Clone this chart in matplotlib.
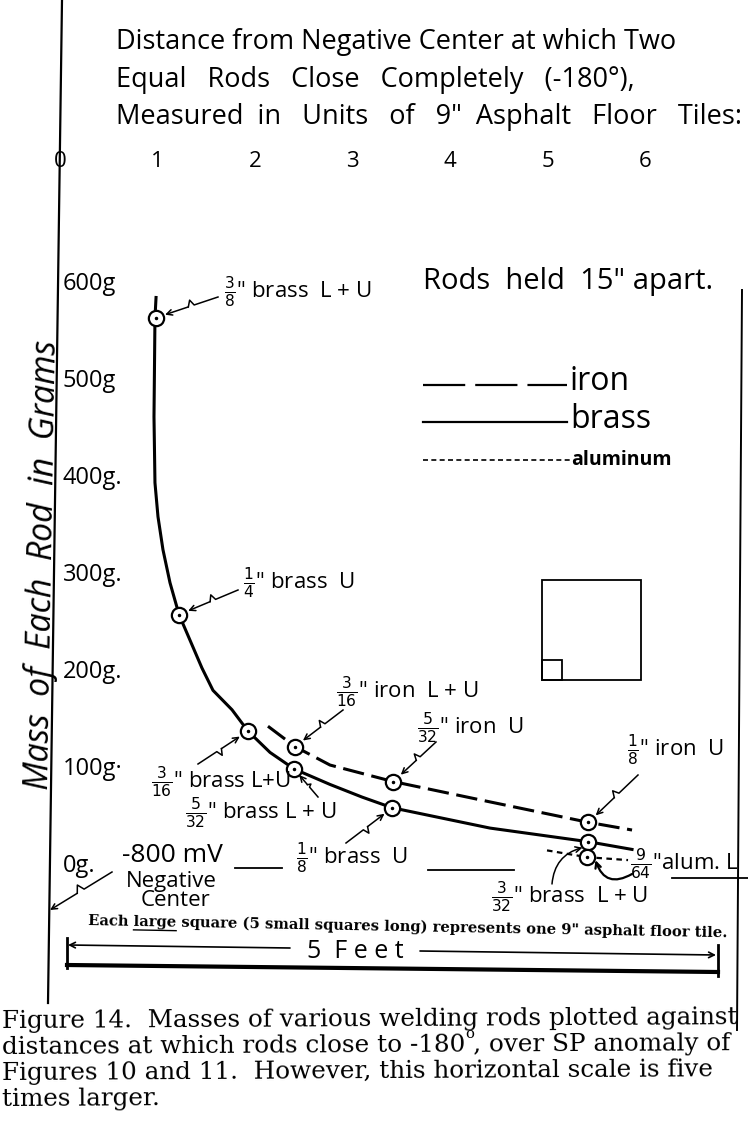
import matplotlib.pyplot as plt
import matplotlib.transforms as mtransforms
from matplotlib.patches import Rectangle
import numpy as np

W, H = 748, 1135

# distance in 9" tiles from the negative center, mass in grams
brass_x = [0.98, 1.22, 1.93, 2.40, 3.41, 5.42]
brass_g = [562, 256, 136, 97, 57, 22]
iron_x = [2.41, 3.42, 5.42]
iron_g = [120, 84, 42]
alum_x = [5.41]
alum_g = [6]

# hand drawn curves
brass_curve_x = [0.985, 0.974, 0.964, 0.974, 1.005, 1.056, 1.128, 1.221, 1.456, 1.569,
                 1.764, 1.928, 2.154, 2.400, 2.769, 3.097, 3.405, 4.410, 5.415, 5.867]
brass_curve_g = [583, 562, 460, 392, 357, 323, 289, 256, 201, 178,
                 158, 136, 114, 97, 81, 68, 57, 36, 22, 14]
iron_curve_x = [2.133, 2.410, 2.769, 3.415, 4.410, 5.415, 5.867]
iron_curve_g = [141, 120, 101, 84, 63, 42, 34]
alum_curve_x = [4.995, 5.405, 5.826]
alum_curve_g = [13, 6, 3]

tile_ticks = [0, 1, 2, 3, 4, 5, 6]
tile_labels = ['0', '1', '2', '3', '4', '5', '6']
gram_ticks = [0, 100, 200, 300, 400, 500, 600]
gram_labels = ['0g.', '100g·', '200g.', '300g.', '400g.', '500g', '600g']

hand = 'Open Sans'
typer = 'DejaVu Serif'
plt.rcParams['font.family'] = hand
plt.rcParams['mathtext.fontset'] = 'dejavusans'

fig = plt.figure(figsize=(W / 100, H / 100), dpi=100)
ax = fig.add_axes([60 / W, 0, (W - 60) / W, 1])
ax.set_xlim(0, (W - 60) / 97.5)
ax.set_ylim((863 - H) / 0.97, 863 / 0.97)
for s in ax.spines.values():
    s.set_visible(False)

ax.set_yticks(gram_ticks, gram_labels)
ax.tick_params(axis='y', length=0, pad=-2, labelsize=17)
for t in ax.get_yticklabels():
    t.set_ha('left')
ax.xaxis.set_ticks_position('top')
ax.set_xticks(tile_ticks, tile_labels)
ax.tick_params(axis='x', length=0, pad=-124, labelsize=16)

ident = mtransforms.IdentityTransform()
rend = fig.canvas.get_renderer()


def D(x, y):
    return (x, H - y)


def pline(xs, ys, **kw):
    ax.plot(xs, [H - y for y in ys], transform=ident, clip_on=False, color='black', **kw)


def ftext(x, y, s, **kw):
    return fig.text(x / W, 1 - y / H, s, **kw)


def fit(t, width):
    w = t.get_window_extent(rend).width
    t.set_fontsize(t.get_fontsize() * width / w)
    return t.get_fontsize()


def width_of(s, **kw):
    t = fig.text(0, 0, s, **kw)
    w = t.get_window_extent(rend).width
    t.remove()
    return w


# axis line and right edge
pline([62, 48], [0, 1003], lw=1.6)
pline([742, 737], [290, 1030], lw=1.4)

# curves
ax.plot(brass_curve_x, brass_curve_g, color='black', lw=2.2)
ax.plot(iron_curve_x, iron_curve_g, color='black', lw=2.2, dashes=(7, 2.5))
ax.plot(alum_curve_x, alum_curve_g, color='black', lw=1.6, dashes=(2.5, 2))

for xs, gs in [(brass_x, brass_g), (iron_x, iron_g), (alum_x, alum_g)]:
    ax.plot(xs, gs, 'o', ms=11, mfc='white', mec='black', mew=1.6, zorder=5)
    ax.plot(xs, gs, '.', ms=3, color='black', zorder=6)


def to_px(x, g):
    dx, dy = ax.transData.transform((x, g))
    return dx, H - dy


def zig(start, target, jog=6, r=10):
    sx, sy = start
    ex, ey = target
    d = np.array([ex - sx, ey - sy], float)
    u = d / np.hypot(*d)
    n = np.array([-u[1], u[0]])
    e = np.array([ex, ey]) - u * r
    s = np.array([sx, sy])
    a = s + 0.45 * (e - s)
    b = s + 0.50 * (e - s) + jog * n
    c = s + 0.56 * (e - s)
    pts = [s, a, b, c]
    pline([p[0] for p in pts], [p[1] for p in pts], lw=1.1)
    ax.annotate('', xy=D(*e), xytext=D(*c), xycoords='figure pixels', textcoords='figure pixels',
                arrowprops=dict(arrowstyle='->', lw=1.1, shrinkA=0, shrinkB=0, color='black'))


lab = dict(fontsize=16, va='center', ha='left')
ftext(224, 292, r'$\frac{3}{8}$" brass  L + U', **lab)
zig((218, 297), to_px(brass_x[0], brass_g[0]))
ftext(243, 583, r'$\frac{1}{4}$" brass  U', **lab)
zig((238, 590), to_px(brass_x[1], brass_g[1]))
ftext(336, 692, r'$\frac{3}{16}$" iron  L + U', **lab)
zig((343, 710), to_px(iron_x[0], iron_g[0]))
ftext(417, 728, r'$\frac{5}{32}$" iron  U', **lab)
zig((436, 742), to_px(iron_x[1], iron_g[1]))
ftext(627, 750, r'$\frac{1}{8}$" iron  U', **lab)
zig((638, 775), to_px(iron_x[2], iron_g[2]))
ftext(151, 782, r'$\frac{3}{16}$" brass L+U', **lab)
zig((198, 764), to_px(brass_x[2], brass_g[2]))
ftext(185, 813, r'$\frac{5}{32}$" brass L + U', **lab)
zig((318, 797), to_px(brass_x[3], brass_g[3]), jog=3, r=8)
ftext(296, 858, r'$\frac{1}{8}$" brass  U', **lab)
zig((346, 843), to_px(brass_x[4], brass_g[4]))
ftext(491, 897, r'$\frac{3}{32}$" brass  L + U', **lab)
bx, by = to_px(brass_x[5], brass_g[5])
ax.annotate('', xy=D(bx - 6, by + 6), xytext=D(552, 884), xycoords='figure pixels',
            textcoords='figure pixels',
            arrowprops=dict(arrowstyle='->', lw=1.1, color='black', shrinkA=0, shrinkB=0,
                            connectionstyle='arc3,rad=-0.35'))
ftext(630, 864, r'$\frac{9}{64}$"alum. L', fontsize=16, va='center', ha='left')
axx, axy = to_px(alum_x[0], alum_g[0])
ax.annotate('', xy=D(axx + 8, axy + 3), xytext=D(632, 874), xycoords='figure pixels',
            textcoords='figure pixels',
            arrowprops=dict(arrowstyle='->', lw=1.6, color='black', shrinkA=0, shrinkB=0,
                            connectionstyle='arc3,rad=-0.6'))

# underscores along the zero line
pline([235, 282], [868, 868], lw=1.3)
pline([428, 514], [870, 870], lw=1.3)
pline([672, 748], [878, 878], lw=1.3)

ftext(122, 856, '-800 mV', fontsize=19, va='center', ha='left')
ftext(171, 881, 'Negative', fontsize=16, va='center', ha='center')
ftext(176, 900, 'Center', fontsize=16, va='center', ha='center')
zig((112, 872), (50, 910), jog=7, r=0)

# header
head = dict(fontsize=19.5, va='center', ha='left')
ftext(116, 42, 'Distance from Negative Center at which Two', **head)
ftext(116, 80, 'Equal   Rods   Close   Completely   (-180°),', **head)
ftext(116, 117, 'Measured  in   Units   of   9"  Asphalt   Floor   Tiles:', **head)

yl = ftext(42, 565, 'Mass  of  Each  Rod  in  Grams', fontsize=19, style='italic',
           va='center', ha='center')
fit(yl, 450)
yl.set_rotation(89)

rh = ftext(423, 282, 'Rods  held  15" apart.', fontsize=17, va='center', ha='left')
fit(rh, 290)

# legend
pline([423, 567], [385, 385], lw=1.6, dashes=(19, 4.5))
ftext(570, 381, 'iron', fontsize=23, va='center', ha='left')
pline([423, 567], [422, 422], lw=1.6)
ftext(570, 419, 'brass', fontsize=23, va='center', ha='left')
pline([423, 570], [460, 460], lw=1.2, dashes=(3, 2))
ftext(571, 460, 'aluminum', fontsize=14, va='center', ha='left', weight='bold')

# tile squares
ax.add_patch(Rectangle(D(542, 680), 99, 100, transform=ident, fill=False, lw=1.3,
                       ec='black', clip_on=False))
ax.add_patch(Rectangle(D(542, 680), 20, 20, transform=ident, fill=False, lw=1.3,
                       ec='black', clip_on=False))

# 5 feet scale
note = 'Each large square (5 small squares long) represents one 9" asphalt floor tile.'
nt = ftext(88, 925, note, family=typer, weight='bold', fontsize=10, ha='left', va='baseline')
fs = fit(nt, 642)
nt.set_rotation(-1.1)
nt.set_rotation_mode('anchor')
u0 = 88 + width_of('Each ', family=typer, weight='bold', fontsize=fs)
u1 = 88 + width_of('Each large', family=typer, weight='bold', fontsize=fs)
pline([u0, u1], [929 + (u0 - 88) * 0.019, 929 + (u1 - 88) * 0.019], lw=1.0)
pline([67, 67], [938, 968], lw=2)
pline([718, 718], [945, 976], lw=2)
pline([67, 718], [965, 972], lw=3)
ax.annotate('', xy=D(68, 945), xytext=D(290, 948), xycoords='figure pixels',
            textcoords='figure pixels',
            arrowprops=dict(arrowstyle='->', lw=1.2, color='black', shrinkA=0, shrinkB=0))
ax.annotate('', xy=D(716, 955), xytext=D(420, 951), xycoords='figure pixels',
            textcoords='figure pixels',
            arrowprops=dict(arrowstyle='->', lw=1.2, color='black', shrinkA=0, shrinkB=0))
ftext(355, 952, '5  F e e t', fontsize=18, va='center', ha='center')

# caption
lines = ['Figure 14.  Masses of various welding rods plotted against',
         'distances at which rods close to -180 , over SP anomaly of',
         'Figures 10 and 11.  However, this horizontal scale is five',
         'times larger.']
c1 = ftext(2, 1022, lines[0], family=typer, fontsize=14, ha='left', va='center')
cfs = fit(c1, 738)
c1.set_rotation(0.3)
c1.set_rotation_mode('anchor')
for i, s in enumerate(lines[1:]):
    ftext(2, 1048 + 26 * i, s, family=typer, fontsize=cfs, ha='left', va='center',
          rotation=0.3, rotation_mode='anchor')
ox = 2 + width_of('distances at which rods close to -180', family=typer, fontsize=cfs)
ftext(ox, 1034, 'o', family=typer, fontsize=cfs * 0.6, ha='left', va='center')

fig.savefig('out.png', dpi=100)
